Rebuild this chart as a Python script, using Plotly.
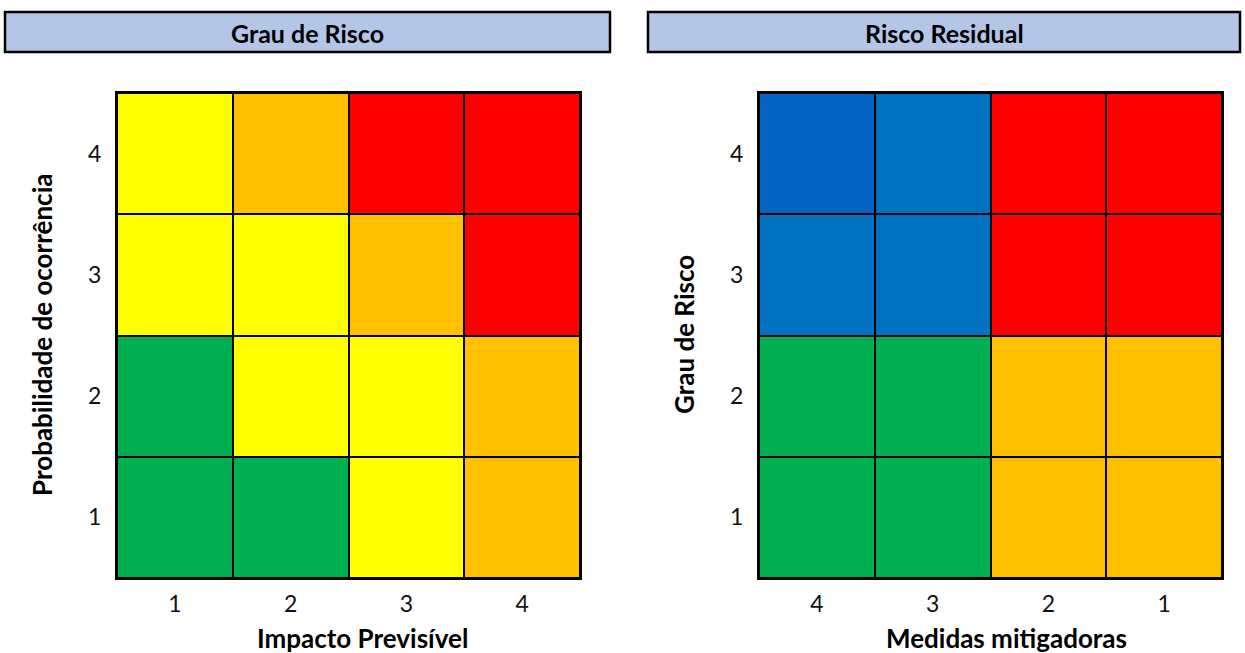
import plotly.graph_objects as go

# Data
ticks_left_x = ["1", "2", "3", "4"]
ticks_left_y = ["1", "2", "3", "4"]
ticks_right_x = ["4", "3", "2", "1"]
ticks_right_y = ["1", "2", "3", "4"]

# level codes: 1 green, 2 yellow, 3 orange, 4 red, 5 dark blue, 6 blue
grau_risco = [
    [1, 1, 2, 3],   # prob 1
    [1, 2, 2, 3],   # prob 2
    [2, 2, 3, 4],   # prob 3
    [2, 3, 4, 4],   # prob 4
]
risco_residual = [
    [1, 1, 3, 3],   # grau 1
    [1, 1, 3, 3],   # grau 2
    [6, 6, 4, 4],   # grau 3
    [5, 6, 4, 4],   # grau 4
]
level_colors = ["#00B050", "#FFFF00", "#FFC000", "#FF0000", "#0563C1", "#0070C0"]

W, H = 1245, 653
FONT = "Lato"

def px_x(v):
    return v / W

def px_y(v):
    return 1 - v / H

# discrete colorscale
n = len(level_colors)
cs = []
for i, c in enumerate(level_colors):
    cs.append([i / n, c])
    cs.append([(i + 1) / n, c])

fig = go.Figure()
fig.add_trace(go.Heatmap(z=grau_risco, x=ticks_left_x, y=ticks_left_y,
                         colorscale=cs, zmin=0.5, zmax=n + 0.5, showscale=False,
                         xgap=2, ygap=2, hoverinfo="skip", xaxis="x", yaxis="y"))
fig.add_trace(go.Heatmap(z=risco_residual, x=ticks_right_x, y=ticks_right_y,
                         colorscale=cs, zmin=0.5, zmax=n + 0.5, showscale=False,
                         xgap=2, ygap=2, hoverinfo="skip", xaxis="x2", yaxis="y2"))

axis_common = dict(showgrid=False, zeroline=False, showline=True, linecolor="black",
                   linewidth=2, mirror=True, ticks="", type="category",
                   tickfont=dict(family=FONT, size=23, color="#111"))

fig.update_layout(
    width=W, height=H,
    margin=dict(l=0, r=0, t=0, b=0),
    paper_bgcolor="white",
    plot_bgcolor="black",
    xaxis=dict(domain=[px_x(117), px_x(580)], anchor="y", ticklabelstandoff=4, **axis_common),
    yaxis=dict(domain=[px_y(578), px_y(93)], anchor="x", ticklabelstandoff=9, **axis_common),
    xaxis2=dict(domain=[px_x(759), px_x(1222)], anchor="y2", ticklabelstandoff=4, **axis_common),
    yaxis2=dict(domain=[px_y(578), px_y(93)], anchor="x2", ticklabelstandoff=9, **axis_common),
    showlegend=False,
)

# Title boxes
for x0, x1, text in [(5, 610, "Grau de Risco"), (648, 1240, "Risco Residual")]:
    fig.add_shape(type="rect", xref="paper", yref="paper",
                  x0=px_x(x0), x1=px_x(x1), y0=px_y(52), y1=px_y(12),
                  fillcolor="#B4C6E7", line=dict(color="black", width=2.5))
    fig.add_annotation(xref="paper", yref="paper", x=px_x((x0 + x1) / 2), y=px_y(33),
                       xanchor="center", yanchor="middle",
                       text=f"<b>{text}</b>", showarrow=False,
                       font=dict(family=FONT, size=25, color="black"))

# Axis titles
title_font = dict(family=FONT, size=26, color="black")
fig.add_annotation(xref="paper", yref="paper", x=px_x(362), y=px_y(638),
                   xanchor="center", yanchor="middle",
                   text="<b>Impacto Previsível</b>", showarrow=False, font=title_font)
fig.add_annotation(xref="paper", yref="paper", x=px_x(1006), y=px_y(638),
                   xanchor="center", yanchor="middle",
                   text="<b>Medidas mitigadoras</b>", showarrow=False, font=title_font)
fig.add_annotation(xref="paper", yref="paper", x=px_x(42), y=px_y(335),
                   xanchor="center", yanchor="middle",
                   text="<b>Probabilidade de ocorrência</b>", showarrow=False, textangle=-90,
                   font=title_font)
fig.add_annotation(xref="paper", yref="paper", x=px_x(684), y=px_y(335),
                   xanchor="center", yanchor="middle",
                   text="<b>Grau de Risco</b>", showarrow=False, textangle=-90,
                   font=title_font)

fig.write_html("out.html", config={"displayModeBar": False},
               post_script="document.body.style.margin='0';")
